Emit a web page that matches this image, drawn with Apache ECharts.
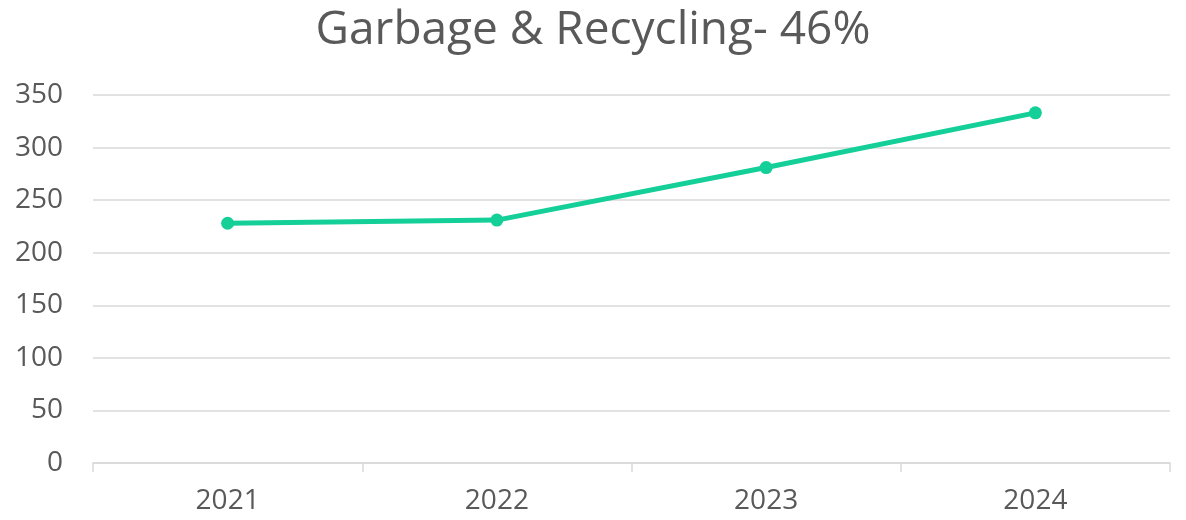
<!DOCTYPE html>
<html>
<head>
<meta charset="utf-8">
<script src="https://cdn.jsdelivr.net/npm/echarts@6/dist/echarts.min.js"></script>
<style>
  html, body { margin: 0; padding: 0; background: #fff; }
  #chart { width: 1186px; height: 520px; }
</style>
</head>
<body>
<div id="chart"></div>
<script>
var years = ['2021', '2022', '2023', '2024'];
var tonnage = [228, 231, 281, 333];
var titleText = 'Garbage & Recycling- 46%';

var myChart = echarts.init(document.getElementById('chart'));
var option = {
    animation: false,
    title: {
        text: titleText,
        left: 'center',
        top: 3,
        textStyle: {
            fontFamily: 'Open Sans',
            fontSize: 46,
            fontWeight: 'normal',
            color: '#595959'
        }
    },
    grid: { left: 93, right: 16, top: 95, bottom: 57 },
    xAxis: {
        type: 'category',
        data: years,
        boundaryGap: true,
        axisLine: { lineStyle: { color: '#d9d9d9', width: 1.5 } },
        axisTick: { show: true, length: 9, lineStyle: { color: '#d9d9d9', width: 1.5 } },
        axisLabel: { color: '#595959', fontSize: 28, fontFamily: 'Open Sans', margin: 24 }
    },
    yAxis: {
        type: 'value',
        min: 0,
        max: 350,
        interval: 50,
        axisLine: { show: false },
        axisTick: { show: false },
        splitLine: { lineStyle: { color: '#d9d9d9', width: 1.5 } },
        axisLabel: { color: '#595959', fontSize: 28, fontFamily: 'Open Sans', margin: 30 }
    },
    series: [{
        type: 'line',
        data: tonnage,
        symbol: 'circle',
        symbolSize: 13,
        lineStyle: { color: '#14cf98', width: 5 },
        itemStyle: { color: '#14cf98' }
    }]
};
myChart.setOption(option);
</script>
</body>
</html>
